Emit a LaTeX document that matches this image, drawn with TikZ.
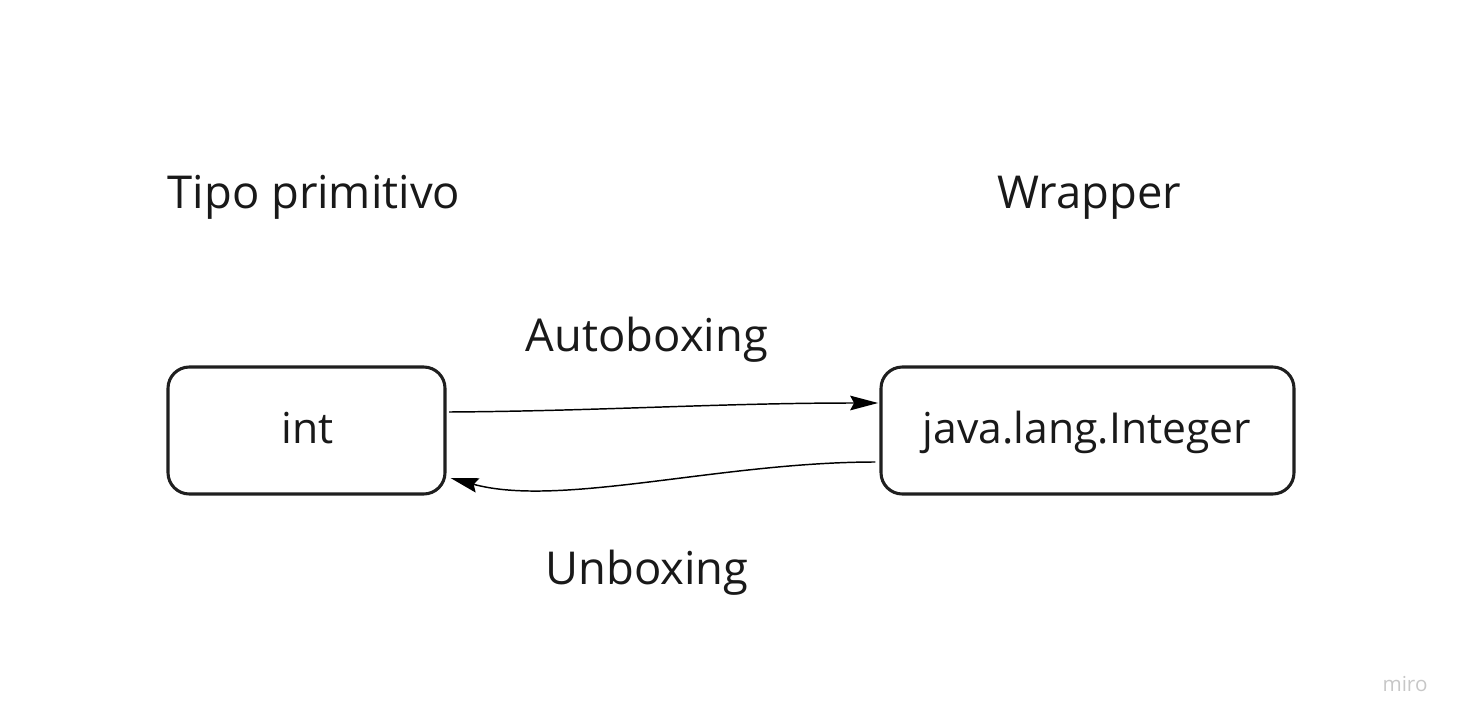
\documentclass[tikz,border=0pt]{standalone}
\usepackage{fontspec}
\setmainfont{Open Sans}
\usetikzlibrary{arrows.meta}
\begin{document}
\begin{tikzpicture}[x=0.75pt,y=-0.75pt,
  box/.style={draw=black!88,line width=2.3pt,rounded corners=16pt,inner sep=0pt},
  lbl/.style={anchor=base,text=black!90,font=\fontsize{34}{41}\selectfont},
  boxtxt/.style={anchor=base,text=black!90,font=\fontsize{32}{38}\selectfont},
  conn/.style={line width=1.1pt,-{Stealth[length=21pt,width=11pt,inset=3pt]}}]
\useasboundingbox (0,0) rectangle (1461,725);
\node[box,minimum width=277*0.75pt,minimum height=127*0.75pt] (int) at (306.5,430.5) {};
\node[box,minimum width=413*0.75pt,minimum height=127*0.75pt] (integer) at (1087.5,430.5) {};
\node[boxtxt] (tint) at (308,443) {int};
\node[boxtxt] (tinteger) at (1087,443) {java.lang.Integer};
\node[lbl] (tipo) at (314,208) {Tipo primitivo};
\node[lbl] (wrap) at (1089,208) {Wrapper};
\node[lbl] (auto) at (647,351) {Autoboxing};
\node[lbl] (unbox) at (647,584) {Unboxing};
\node[anchor=base,text=black!22,font=\fontsize{15.5}{18}\selectfont] (miro) at (1405,691) {miro};
\coordinate (a1) at (int.east |- 0,412);
\coordinate (a2) at (integer.west |- 0,403);
\coordinate (b1) at (integer.west |- 0,462);
\coordinate (b2) at (int.east |- 0,478);
\draw[conn] ([xshift=2]a1) .. controls (600,411) and (720,403) .. ([xshift=-1]a2);
\draw[conn] ([xshift=-3]b1) .. controls (720,462) and (560,508) .. ([xshift=3]b2);
\end{tikzpicture}
\end{document}
